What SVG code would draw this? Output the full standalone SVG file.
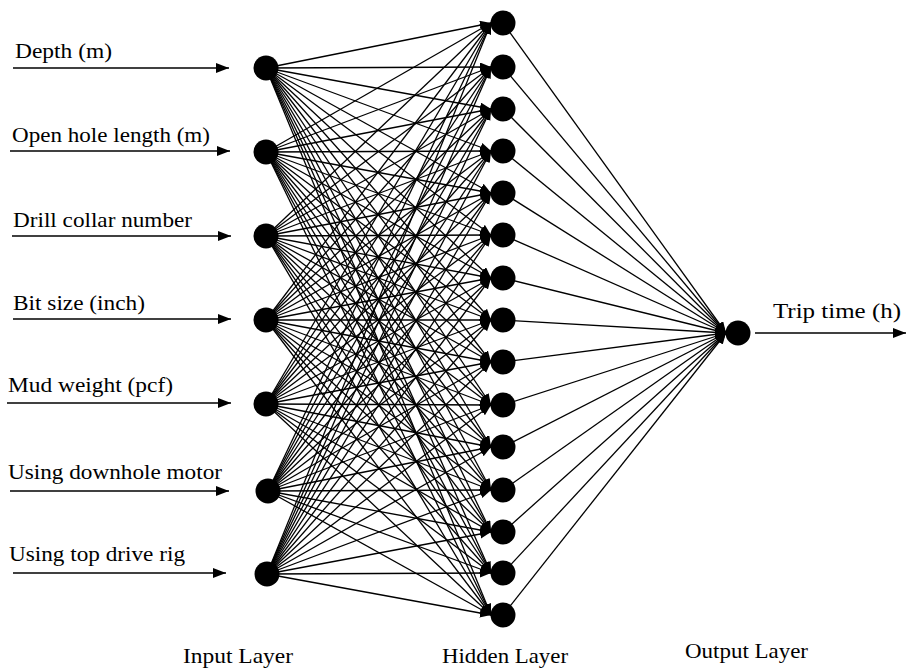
<svg xmlns="http://www.w3.org/2000/svg" width="907" height="668" viewBox="0 0 907 668" font-family="'Liberation Serif', 'DejaVu Serif', serif">
<style>
.c{stroke:#000;stroke-width:1.3;marker-end:url(#ah)}
.a{stroke:#000;stroke-width:1.6;marker-end:url(#ai)}
.n{fill:#000}
.t{font-family:'Liberation Serif','DejaVu Serif',serif;font-size:21px;fill:#000}
</style>
<defs>
<marker id="ah" markerUnits="userSpaceOnUse" markerWidth="12" markerHeight="10" refX="11" refY="4.5" orient="auto"><path d="M0,0 L11,4.5 L0,9 z" fill="#000"/></marker>
<marker id="ai" markerUnits="userSpaceOnUse" markerWidth="14" markerHeight="11" refX="13" refY="5" orient="auto"><path d="M0,0 L13,5 L0,10 z" fill="#000"/></marker>
</defs>
<rect width="907" height="668" fill="#fff"/>
<g id="connectors">
<line class="a" x1="13" y1="68" x2="229" y2="68"/>
<line class="a" x1="10" y1="151" x2="230" y2="151"/>
<line class="a" x1="12" y1="236" x2="231" y2="236"/>
<line class="a" x1="13" y1="319" x2="231" y2="319"/>
<line class="a" x1="7" y1="403" x2="231" y2="403"/>
<line class="a" x1="10" y1="491" x2="229" y2="491"/>
<line class="a" x1="13" y1="573" x2="226" y2="573"/>
<line class="a" x1="755" y1="333" x2="906" y2="333"/>
<g id="ih">
<line class="c" x1="266" y1="68" x2="491" y2="23"/><line class="c" x1="266" y1="68" x2="491" y2="67"/><line class="c" x1="266" y1="68" x2="491" y2="109"/><line class="c" x1="266" y1="68" x2="491" y2="151"/><line class="c" x1="266" y1="68" x2="491" y2="193"/><line class="c" x1="266" y1="68" x2="491" y2="235"/><line class="c" x1="266" y1="68" x2="491" y2="278"/><line class="c" x1="266" y1="68" x2="491" y2="320"/><line class="c" x1="266" y1="68" x2="491" y2="362"/><line class="c" x1="266" y1="68" x2="491" y2="405"/><line class="c" x1="266" y1="68" x2="491" y2="447"/><line class="c" x1="266" y1="68" x2="491" y2="490"/><line class="c" x1="266" y1="68" x2="491" y2="532"/><line class="c" x1="266" y1="68" x2="491" y2="573"/><line class="c" x1="266" y1="68" x2="491" y2="615"/>
<line class="c" x1="266" y1="152" x2="491" y2="23"/><line class="c" x1="266" y1="152" x2="491" y2="67"/><line class="c" x1="266" y1="152" x2="491" y2="109"/><line class="c" x1="266" y1="152" x2="491" y2="151"/><line class="c" x1="266" y1="152" x2="491" y2="193"/><line class="c" x1="266" y1="152" x2="491" y2="235"/><line class="c" x1="266" y1="152" x2="491" y2="278"/><line class="c" x1="266" y1="152" x2="491" y2="320"/><line class="c" x1="266" y1="152" x2="491" y2="362"/><line class="c" x1="266" y1="152" x2="491" y2="405"/><line class="c" x1="266" y1="152" x2="491" y2="447"/><line class="c" x1="266" y1="152" x2="491" y2="490"/><line class="c" x1="266" y1="152" x2="491" y2="532"/><line class="c" x1="266" y1="152" x2="491" y2="573"/><line class="c" x1="266" y1="152" x2="491" y2="615"/>
<line class="c" x1="266" y1="236" x2="491" y2="23"/><line class="c" x1="266" y1="236" x2="491" y2="67"/><line class="c" x1="266" y1="236" x2="491" y2="109"/><line class="c" x1="266" y1="236" x2="491" y2="151"/><line class="c" x1="266" y1="236" x2="491" y2="193"/><line class="c" x1="266" y1="236" x2="491" y2="235"/><line class="c" x1="266" y1="236" x2="491" y2="278"/><line class="c" x1="266" y1="236" x2="491" y2="320"/><line class="c" x1="266" y1="236" x2="491" y2="362"/><line class="c" x1="266" y1="236" x2="491" y2="405"/><line class="c" x1="266" y1="236" x2="491" y2="447"/><line class="c" x1="266" y1="236" x2="491" y2="490"/><line class="c" x1="266" y1="236" x2="491" y2="532"/><line class="c" x1="266" y1="236" x2="491" y2="573"/><line class="c" x1="266" y1="236" x2="491" y2="615"/>
<line class="c" x1="266" y1="320" x2="491" y2="23"/><line class="c" x1="266" y1="320" x2="491" y2="67"/><line class="c" x1="266" y1="320" x2="491" y2="109"/><line class="c" x1="266" y1="320" x2="491" y2="151"/><line class="c" x1="266" y1="320" x2="491" y2="193"/><line class="c" x1="266" y1="320" x2="491" y2="235"/><line class="c" x1="266" y1="320" x2="491" y2="278"/><line class="c" x1="266" y1="320" x2="491" y2="320"/><line class="c" x1="266" y1="320" x2="491" y2="362"/><line class="c" x1="266" y1="320" x2="491" y2="405"/><line class="c" x1="266" y1="320" x2="491" y2="447"/><line class="c" x1="266" y1="320" x2="491" y2="490"/><line class="c" x1="266" y1="320" x2="491" y2="532"/><line class="c" x1="266" y1="320" x2="491" y2="573"/><line class="c" x1="266" y1="320" x2="491" y2="615"/>
<line class="c" x1="266" y1="404" x2="491" y2="23"/><line class="c" x1="266" y1="404" x2="491" y2="67"/><line class="c" x1="266" y1="404" x2="491" y2="109"/><line class="c" x1="266" y1="404" x2="491" y2="151"/><line class="c" x1="266" y1="404" x2="491" y2="193"/><line class="c" x1="266" y1="404" x2="491" y2="235"/><line class="c" x1="266" y1="404" x2="491" y2="278"/><line class="c" x1="266" y1="404" x2="491" y2="320"/><line class="c" x1="266" y1="404" x2="491" y2="362"/><line class="c" x1="266" y1="404" x2="491" y2="405"/><line class="c" x1="266" y1="404" x2="491" y2="447"/><line class="c" x1="266" y1="404" x2="491" y2="490"/><line class="c" x1="266" y1="404" x2="491" y2="532"/><line class="c" x1="266" y1="404" x2="491" y2="573"/><line class="c" x1="266" y1="404" x2="491" y2="615"/>
<line class="c" x1="268" y1="491" x2="491" y2="23"/><line class="c" x1="268" y1="491" x2="491" y2="67"/><line class="c" x1="268" y1="491" x2="491" y2="109"/><line class="c" x1="268" y1="491" x2="491" y2="151"/><line class="c" x1="268" y1="491" x2="491" y2="193"/><line class="c" x1="268" y1="491" x2="491" y2="235"/><line class="c" x1="268" y1="491" x2="491" y2="278"/><line class="c" x1="268" y1="491" x2="491" y2="320"/><line class="c" x1="268" y1="491" x2="491" y2="362"/><line class="c" x1="268" y1="491" x2="491" y2="405"/><line class="c" x1="268" y1="491" x2="491" y2="447"/><line class="c" x1="268" y1="491" x2="491" y2="490"/><line class="c" x1="268" y1="491" x2="491" y2="532"/><line class="c" x1="268" y1="491" x2="491" y2="573"/><line class="c" x1="268" y1="491" x2="491" y2="615"/>
<line class="c" x1="267" y1="574" x2="491" y2="23"/><line class="c" x1="267" y1="574" x2="491" y2="67"/><line class="c" x1="267" y1="574" x2="491" y2="109"/><line class="c" x1="267" y1="574" x2="491" y2="151"/><line class="c" x1="267" y1="574" x2="491" y2="193"/><line class="c" x1="267" y1="574" x2="491" y2="235"/><line class="c" x1="267" y1="574" x2="491" y2="278"/><line class="c" x1="267" y1="574" x2="491" y2="320"/><line class="c" x1="267" y1="574" x2="491" y2="362"/><line class="c" x1="267" y1="574" x2="491" y2="405"/><line class="c" x1="267" y1="574" x2="491" y2="447"/><line class="c" x1="267" y1="574" x2="491" y2="490"/><line class="c" x1="267" y1="574" x2="491" y2="532"/><line class="c" x1="267" y1="574" x2="491" y2="573"/><line class="c" x1="267" y1="574" x2="491" y2="615"/>
</g>
<g id="ho">
<line class="c" x1="503" y1="23" x2="726" y2="333"/><line class="c" x1="503" y1="67" x2="726" y2="333"/><line class="c" x1="503" y1="109" x2="726" y2="333"/><line class="c" x1="503" y1="151" x2="726" y2="333"/><line class="c" x1="503" y1="193" x2="726" y2="333"/><line class="c" x1="503" y1="235" x2="726" y2="333"/><line class="c" x1="503" y1="278" x2="726" y2="333"/><line class="c" x1="503" y1="320" x2="726" y2="333"/><line class="c" x1="503" y1="362" x2="726" y2="333"/><line class="c" x1="503" y1="405" x2="726" y2="333"/><line class="c" x1="503" y1="447" x2="726" y2="333"/><line class="c" x1="503" y1="490" x2="726" y2="333"/><line class="c" x1="503" y1="532" x2="726" y2="333"/><line class="c" x1="503" y1="573" x2="726" y2="333"/><line class="c" x1="503" y1="615" x2="726" y2="333"/>
</g>
</g>
<g id="input-nodes">
<g id="in1"><circle class="n" cx="266" cy="68" r="12.5"/><text class="t" x="15" y="58" textLength="97" lengthAdjust="spacingAndGlyphs">Depth (m)</text></g>
<g id="in2"><circle class="n" cx="266" cy="152" r="12.5"/><text class="t" x="12" y="142" textLength="198" lengthAdjust="spacingAndGlyphs">Open hole length (m)</text></g>
<g id="in3"><circle class="n" cx="266" cy="236" r="12.5"/><text class="t" x="13" y="227" textLength="179" lengthAdjust="spacingAndGlyphs">Drill collar number</text></g>
<g id="in4"><circle class="n" cx="266" cy="320" r="12.5"/><text class="t" x="13" y="310" textLength="132" lengthAdjust="spacingAndGlyphs">Bit size (inch)</text></g>
<g id="in5"><circle class="n" cx="266" cy="404" r="12.5"/><text class="t" x="8" y="392" textLength="165" lengthAdjust="spacingAndGlyphs">Mud weight (pcf)</text></g>
<g id="in6"><circle class="n" cx="268" cy="491" r="12.5"/><text class="t" x="8" y="479" textLength="214" lengthAdjust="spacingAndGlyphs">Using downhole motor</text></g>
<g id="in7"><circle class="n" cx="267" cy="574" r="12.5"/><text class="t" x="9" y="561" textLength="176" lengthAdjust="spacingAndGlyphs">Using top drive rig</text></g>
</g>
<g id="hidden-nodes">
<circle id="h1" class="n" cx="503" cy="23" r="12.5"/>
<circle id="h2" class="n" cx="503" cy="67" r="12.5"/>
<circle id="h3" class="n" cx="503" cy="109" r="12.5"/>
<circle id="h4" class="n" cx="503" cy="151" r="12.5"/>
<circle id="h5" class="n" cx="503" cy="193" r="12.5"/>
<circle id="h6" class="n" cx="503" cy="235" r="12.5"/>
<circle id="h7" class="n" cx="503" cy="278" r="12.5"/>
<circle id="h8" class="n" cx="503" cy="320" r="12.5"/>
<circle id="h9" class="n" cx="503" cy="362" r="12.5"/>
<circle id="h10" class="n" cx="503" cy="405" r="12.5"/>
<circle id="h11" class="n" cx="503" cy="447" r="12.5"/>
<circle id="h12" class="n" cx="503" cy="490" r="12.5"/>
<circle id="h13" class="n" cx="503" cy="532" r="12.5"/>
<circle id="h14" class="n" cx="503" cy="573" r="12.5"/>
<circle id="h15" class="n" cx="503" cy="615" r="12.5"/>
</g>
<g id="output-node"><circle class="n" cx="738" cy="333" r="12.5"/><text class="t" x="773" y="318" textLength="128" lengthAdjust="spacingAndGlyphs">Trip time (h)</text></g>
<g id="layer-labels">
<text class="t" x="183" y="663" textLength="110" lengthAdjust="spacingAndGlyphs">Input Layer</text>
<text class="t" x="442" y="663" textLength="126" lengthAdjust="spacingAndGlyphs">Hidden Layer</text>
<text class="t" x="685" y="658" textLength="123" lengthAdjust="spacingAndGlyphs">Output Layer</text>
</g>
</svg>
